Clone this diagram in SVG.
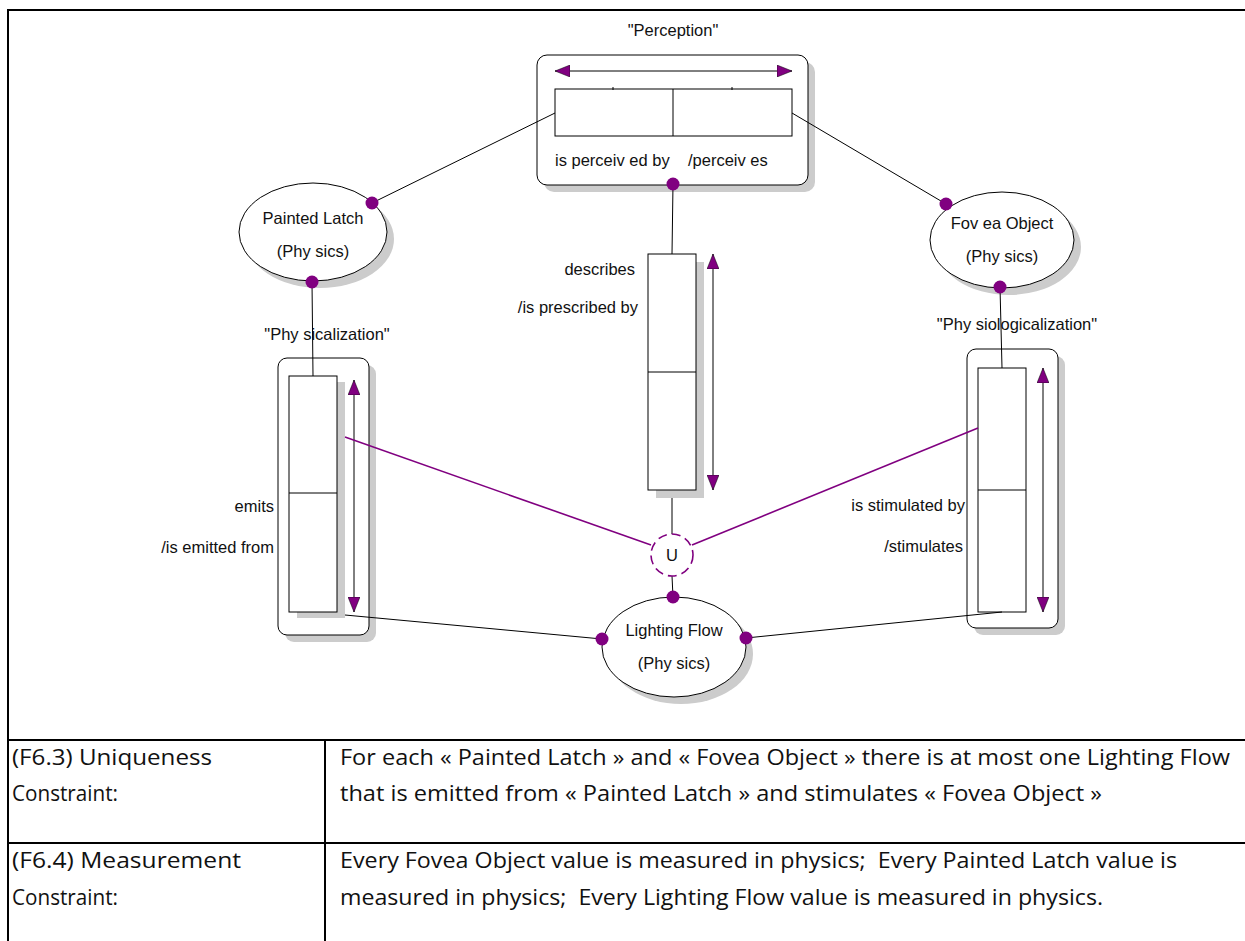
<svg xmlns="http://www.w3.org/2000/svg" width="1245" height="941" viewBox="0 0 1245 941">
<style>
.lbl{font-family:"Liberation Sans",Arial,sans-serif;font-size:16.5px;fill:#111}
.tbl{font-family:"Open Sans","Liberation Sans",sans-serif;font-size:22px;fill:#111}
.box{fill:#fff;stroke:#000;stroke-width:1}
.shadow{fill:#cccccc;stroke:none}
.conn{stroke:#000;stroke-width:1;fill:none}
.purple{stroke:#800080;stroke-width:1.6;fill:none}
.dot{fill:#800080;stroke:none}
.arrow{stroke:#000;stroke-width:1;fill:none;marker-start:url(#ah);marker-end:url(#ah)}
.grid{stroke:#000;stroke-width:2;fill:none}
</style>
<defs>
<marker id="ah" viewBox="0 0 15 12" refX="15" refY="6" markerWidth="15" markerHeight="12" markerUnits="userSpaceOnUse" orient="auto-start-reverse">
<path d="M0,0 L15,6 L0,12 z" fill="#800080" stroke="#000" stroke-width="0.5"/>
</marker>
</defs>
<rect width="1245" height="941" fill="#fff"/>

<g id="frame">
<line class="grid" x1="7" y1="10" x2="1245" y2="10"/>
<line class="grid" x1="8" y1="9" x2="8" y2="941"/>
<line class="grid" x1="8" y1="740" x2="1245" y2="740"/>
<line class="grid" x1="8" y1="843" x2="1245" y2="843"/>
<line class="grid" x1="325" y1="740" x2="325" y2="941"/>
</g>

<g id="perception">
<text class="lbl" x="673" y="36" text-anchor="middle">"Perception"</text>
<rect class="shadow" x="544" y="62" width="271" height="130" rx="10"/>
<rect class="box" x="537" y="55" width="271" height="130" rx="10"/>
<line class="arrow" x1="555" y1="71" x2="792" y2="71"/>
<rect class="box" x="555" y="89" width="237" height="47"/>
<line class="conn" x1="673" y1="89" x2="673" y2="136"/>
<line class="conn" x1="613" y1="87" x2="613" y2="90"/>
<line class="conn" x1="732" y1="87" x2="732" y2="90"/>
<text class="lbl" x="555" y="166">is perceiv ed by</text>
<text class="lbl" x="688" y="166">/perceiv es</text>
</g>

<g id="painted-latch">
<ellipse class="shadow" cx="320" cy="239" rx="74" ry="49"/>
<ellipse class="box" cx="313" cy="232" rx="74" ry="49" stroke-width="1.5"/>
<text class="lbl" x="313" y="224" text-anchor="middle">Painted Latch</text>
<text class="lbl" x="313" y="257" text-anchor="middle">(Phy sics)</text>
</g>

<g id="fovea-object">
<ellipse class="shadow" cx="1009" cy="247" rx="72" ry="48"/>
<ellipse class="box" cx="1002" cy="240" rx="72" ry="48" stroke-width="1.5"/>
<text class="lbl" x="1002" y="229" text-anchor="middle">Fov ea Object</text>
<text class="lbl" x="1002" y="262" text-anchor="middle">(Phy sics)</text>
</g>

<g id="lighting-flow">
<ellipse class="shadow" cx="681" cy="654" rx="72" ry="50"/>
<ellipse class="box" cx="674" cy="647" rx="72" ry="50" stroke-width="1.5"/>
<text class="lbl" x="674" y="636" text-anchor="middle">Lighting Flow</text>
<text class="lbl" x="674" y="669" text-anchor="middle">(Phy sics)</text>
</g>

<g id="physicalization">
<text class="lbl" x="327" y="340" text-anchor="middle">"Phy sicalization"</text>
<rect class="shadow" x="285" y="365" width="91" height="277" rx="9"/>
<rect class="box" x="278" y="358" width="91" height="277" rx="9"/>
<rect class="shadow" x="297" y="382" width="48" height="236"/>
<rect class="box" x="289" y="376" width="48" height="236"/>
<line class="conn" x1="289" y1="493" x2="337" y2="493"/>
<line class="arrow" x1="354" y1="380" x2="354" y2="612"/>
<text class="lbl" x="274" y="512" text-anchor="end">emits</text>
<text class="lbl" x="274" y="553" text-anchor="end">/is emitted from</text>
</g>

<g id="describes">
<rect class="shadow" x="656" y="262" width="48" height="236"/>
<rect class="box" x="648" y="254" width="48" height="236"/>
<line class="conn" x1="648" y1="372" x2="696" y2="372"/>
<line class="arrow" x1="713" y1="254" x2="713" y2="490"/>
<text class="lbl" x="635" y="275" text-anchor="end">describes</text>
<text class="lbl" x="638" y="313" text-anchor="end">/is prescribed by</text>
</g>

<g id="physiologicalization">
<text class="lbl" x="1017" y="330" text-anchor="middle">"Phy siologicalization"</text>
<rect class="shadow" x="974" y="356" width="91" height="279" rx="9"/>
<rect class="box" x="967" y="349" width="91" height="279" rx="9"/>
<rect class="box" x="978" y="368" width="48" height="244"/>
<line class="conn" x1="978" y1="490" x2="1026" y2="490"/>
<line class="arrow" x1="1043" y1="368" x2="1043" y2="612"/>
<text class="lbl" x="965" y="511" text-anchor="end">is stimulated by</text>
<text class="lbl" x="963" y="552" text-anchor="end">/stimulates</text>
</g>

<g id="connectors">
<line class="conn" x1="555" y1="113" x2="372" y2="203"/>
<line class="conn" x1="792" y1="113" x2="946" y2="204"/>
<line class="conn" x1="673" y1="184" x2="672" y2="254"/>
<line class="conn" x1="312" y1="282" x2="313" y2="376"/>
<line class="conn" x1="1000" y1="287" x2="1002" y2="368"/>
<line class="conn" x1="672" y1="498" x2="672" y2="534"/>
<line class="conn" x1="672" y1="576" x2="673" y2="597"/>
<line class="purple" x1="345" y1="437" x2="651" y2="545"/>
<line class="purple" x1="692" y1="545" x2="978" y2="428"/>
<line class="conn" x1="345" y1="615" x2="602" y2="639"/>
<line class="conn" x1="746" y1="638" x2="1002" y2="612"/>
<circle class="dot" cx="673" cy="184" r="6.5"/>
<circle class="dot" cx="372" cy="203" r="6.5"/>
<circle class="dot" cx="312" cy="282" r="6.5"/>
<circle class="dot" cx="946" cy="204" r="6.5"/>
<circle class="dot" cx="1000" cy="287" r="6.5"/>
<circle class="dot" cx="673" cy="597" r="6.5"/>
<circle class="dot" cx="602" cy="639" r="6.5"/>
<circle class="dot" cx="746" cy="638" r="6.5"/>
</g>

<g id="uniqueness">
<circle cx="672" cy="555" r="21" fill="#fff" stroke="#800080" stroke-width="1.6" stroke-dasharray="9,5"/>
<text class="lbl" x="672" y="561" text-anchor="middle">U</text>
</g>

<g id="table-text">
<text class="tbl" x="12" y="765" textLength="200" lengthAdjust="spacingAndGlyphs">(F6.3) Uniqueness</text>
<text class="tbl" x="12" y="801" textLength="106" lengthAdjust="spacingAndGlyphs">Constraint:</text>
<text class="tbl" x="12" y="868" textLength="229" lengthAdjust="spacingAndGlyphs">(F6.4) Measurement</text>
<text class="tbl" x="12" y="905" textLength="106" lengthAdjust="spacingAndGlyphs">Constraint:</text>
<text class="tbl" x="340" y="765" textLength="890" lengthAdjust="spacingAndGlyphs">For each « Painted Latch » and « Fovea Object » there is at most one Lighting Flow</text>
<text class="tbl" x="340" y="801" textLength="762" lengthAdjust="spacingAndGlyphs">that is emitted from « Painted Latch » and stimulates « Fovea Object »</text>
<text class="tbl" x="340" y="868" textLength="837" lengthAdjust="spacingAndGlyphs" xml:space="preserve">Every Fovea Object value is measured in physics;  Every Painted Latch value is</text>
<text class="tbl" x="340" y="905" textLength="763" lengthAdjust="spacingAndGlyphs" xml:space="preserve">measured in physics;  Every Lighting Flow value is measured in physics.</text>
</g>
</svg>
